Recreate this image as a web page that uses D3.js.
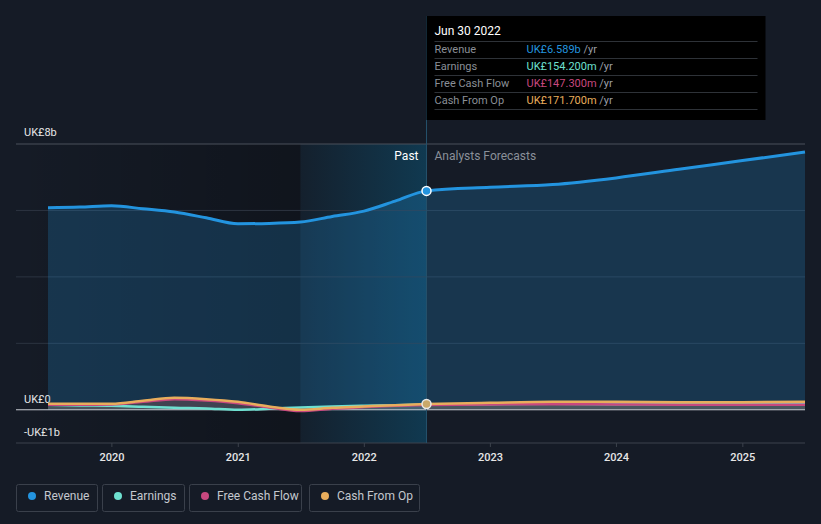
<!DOCTYPE html>
<html><head><meta charset="utf-8">
<script src="https://cdn.jsdelivr.net/npm/d3@7"></script>
<style>
html,body{margin:0;padding:0;background:#151b26;}
svg{display:block;font-family:Roboto,"Noto Sans",sans-serif;}
</style></head>
<body><svg id="c" width="821" height="524"></svg>
<script>
// ---- data (UK£ billions) ----
const pastDates = ["2019-06-30","2019-09-30","2019-12-31","2020-03-31","2020-06-30","2020-09-30","2020-12-31","2021-03-31","2021-06-30","2021-09-30","2021-12-31","2022-03-31","2022-06-30"];
const revenuePast  = [6.08,6.10,6.14,6.05,5.95,5.78,5.60,5.61,5.65,5.82,5.98,6.28,6.589];
const earningsPast = [0.15,0.13,0.12,0.09,0.06,0.04,0.00,0.03,0.07,0.10,0.12,0.14,0.1542];
const fcfPast      = [0.15,0.15,0.16,0.24,0.32,0.28,0.20,0.07,-0.04,0.03,0.08,0.12,0.1473];
const cfoPast      = [0.18,0.18,0.18,0.27,0.36,0.32,0.24,0.10,0.00,0.06,0.10,0.14,0.1717];

const fcDates = ["2022-06-30","2022-12-31","2023-06-30","2023-12-31","2024-06-30","2024-12-31","2025-06-30"];
const revenueFc  = [6.589,6.70,6.78,6.98,7.24,7.50,7.76];
const earningsFc = [0.1542,0.17,0.18,0.17,0.17,0.17,0.17];
const fcfFc      = [0.1473,0.16,0.17,0.16,0.15,0.15,0.15];
const cfoFc      = [0.1717,0.21,0.24,0.24,0.23,0.23,0.24];

const yTicks = [-1,0,2,4,6,8];
const yLabels = {8:"UK£8b",0:"UK£0",[-1]:"-UK£1b"};
const xTickYears = [2020,2021,2022,2023,2024,2025];
const seriesNames = ["Revenue","Earnings","Free Cash Flow","Cash From Op"];
const seriesColors = ["#2394df","#6ee0d0","#c8487f","#e8ad5c"];
const tipValues = ["UK£6.589b","UK£154.200m","UK£147.300m","UK£171.700m"];

// ---- scales ----
const parse = d3.timeParse("%Y-%m-%d");
const svg = d3.select("#c");
const x = d3.scaleTime().domain([parse("2019-06-30"), parse("2025-06-30")]).range([48,805]);
const y = d3.scaleLinear().domain([-1,8]).range([443,144]);
const left = 16, right = 805;
const splitDate = parse("2022-06-30");
const sx = x(splitDate);
const pastStart = x(parse("2021-06-30"));

const defs = svg.append("defs");
const g1 = defs.append("linearGradient").attr("id","dark").attr("x1","0").attr("x2","1");
g1.append("stop").attr("offset","0").attr("stop-color","#000").attr("stop-opacity",0.0);
g1.append("stop").attr("offset","1").attr("stop-color","#000").attr("stop-opacity",0.25);
const g2 = defs.append("linearGradient").attr("id","teal").attr("x1","0").attr("x2","1");
g2.append("stop").attr("offset","0").attr("stop-color","#0b5a7e").attr("stop-opacity",0.08);
g2.append("stop").attr("offset","1").attr("stop-color","#0b5a7e").attr("stop-opacity",0.48);

// background regions
svg.append("rect").attr("x",left).attr("y",144).attr("width",pastStart-left).attr("height",443-144).attr("fill","url(#dark)");
svg.append("rect").attr("x",pastStart).attr("y",144).attr("width",sx-pastStart).attr("height",443-144).attr("fill","url(#teal)");

// gridlines
svg.append("g").selectAll("line").data(yTicks.filter(t=>t!==-1 && t!==0)).join("line")
  .attr("x1",left).attr("x2",right).attr("y1",d=>y(d)).attr("y2",d=>y(d))
  .attr("stroke",(d)=>d===8?"#4a505a":"#2c3440").attr("stroke-width",1);

// y labels
const yLabOff = {8:-8, 0:-7, [-1]:-7};
svg.append("g").selectAll("text").data([8,0,-1]).join("text")
  .attr("x",24).attr("y",d=>y(d)+yLabOff[d]).attr("fill","#e6e6e6").attr("font-size",11)
  .text(d=>yLabels[d]);

// x axis
const xa = svg.append("g").attr("transform","translate(0,443)");
xa.append("line").attr("x1",left).attr("x2",right).attr("stroke","#3c424c");
xa.selectAll("line.t").data(xTickYears).join("line").attr("class","t")
  .attr("x1",d=>x(new Date(d,0,1))).attr("x2",d=>x(new Date(d,0,1))).attr("y1",0).attr("y2",4).attr("stroke","#3c424c");
xa.selectAll("text").data(xTickYears).join("text")
  .attr("x",d=>x(new Date(d,0,1))).attr("y",18).attr("text-anchor","middle").attr("fill","#e6e6e6").attr("font-size",11).attr("font-weight",500)
  .text(d=>d);

// series
const allDates = pastDates.concat(fcDates.slice(1)).map(parse);
const series = [
  revenuePast.concat(revenueFc.slice(1)),
  earningsPast.concat(earningsFc.slice(1)),
  fcfPast.concat(fcfFc.slice(1)),
  cfoPast.concat(cfoFc.slice(1))
];
const line = d3.line().x(d=>x(d[0])).y(d=>y(d[1])).curve(d3.curveMonotoneX);
const area = d3.area().x(d=>x(d[0])).y0(y(0)).y1(d=>y(d[1])).curve(d3.curveMonotoneX);
const pts = series.map(s=>allDates.map((d,i)=>[d,s[i]]));

// areas
svg.append("path").attr("d",area(pts[0])).attr("fill","#2394df").attr("fill-opacity",0.22);
[1,2,3].forEach(k=>{
  svg.append("path").attr("d",area(pts[k])).attr("fill",seriesColors[k]).attr("fill-opacity",0.12);
});
// zero line
svg.append("line").attr("x1",left).attr("x2",right).attr("y1",y(0)).attr("y2",y(0)).attr("stroke","#c8ccd2").attr("stroke-width",1);

// lines (earnings first, cfo last)
[1,2,3,0].forEach(k=>{
  svg.append("path").attr("d",line(pts[k])).attr("fill","none").attr("stroke",seriesColors[k]).attr("stroke-width",k===0?3:2.5);
});

// hover line
svg.append("line").attr("x1",sx).attr("x2",sx).attr("y1",16).attr("y2",443).attr("stroke","#24506a").attr("stroke-width",1);

// markers
svg.append("circle").attr("cx",sx).attr("cy",y(revenueFc[0])).attr("r",4.5).attr("fill","#2394df").attr("stroke","#fff").attr("stroke-width",1.5);
svg.append("circle").attr("cx",sx).attr("cy",y(cfoFc[0])).attr("r",4.5).attr("fill","#c9a86a").attr("stroke","#e8e8e8").attr("stroke-width",1.5);

// Past / Forecast labels
svg.append("text").attr("x",sx-8).attr("y",160).attr("text-anchor","end").attr("fill","#ffffff").attr("font-size",12).text("Past");
svg.append("text").attr("x",sx+8).attr("y",160).attr("fill","#8a9099").attr("font-size",12).text("Analysts Forecasts");

// tooltip
const tip = svg.append("g");
tip.append("rect").attr("x",sx).attr("y",16).attr("width",339).attr("height",104).attr("fill","#000");
tip.append("text").attr("x",sx+8).attr("y",35).attr("fill","#fff").attr("font-size",12).text("Jun 30 2022");
[41,58,75,92,109].forEach(yy=>{
  tip.append("line").attr("x1",sx+8).attr("x2",sx+331).attr("y1",yy+0.5).attr("y2",yy+0.5).attr("stroke","#2e3238");
});
seriesNames.forEach((n,i)=>{
  const yy = 53 + i*17;
  tip.append("text").attr("x",sx+8).attr("y",yy).attr("fill","#8a8f97").attr("font-size",11).text(n);
  const t = tip.append("text").attr("x",sx+100).attr("y",yy).attr("font-size",11);
  t.append("tspan").attr("fill",seriesColors[i]).text(tipValues[i]);
  t.append("tspan").attr("fill","#9a9ea6").text(" /yr");
});

// legend
const lg = svg.append("g");
const boxes = [[16,81],[102,82],[189,112],[309,110]];
seriesNames.forEach((n,i)=>{
  const [bx,bw] = boxes[i];
  lg.append("rect").attr("x",bx+0.5).attr("y",484.5).attr("width",bw).attr("height",27).attr("rx",2)
    .attr("fill","none").attr("stroke","#3a404b");
  lg.append("circle").attr("cx",bx+16).attr("cy",496).attr("r",4).attr("fill",seriesColors[i]);
  lg.append("text").attr("x",bx+28).attr("y",500).attr("fill","#c4c8ce").attr("font-size",12).text(n);
});
</script></body></html>
